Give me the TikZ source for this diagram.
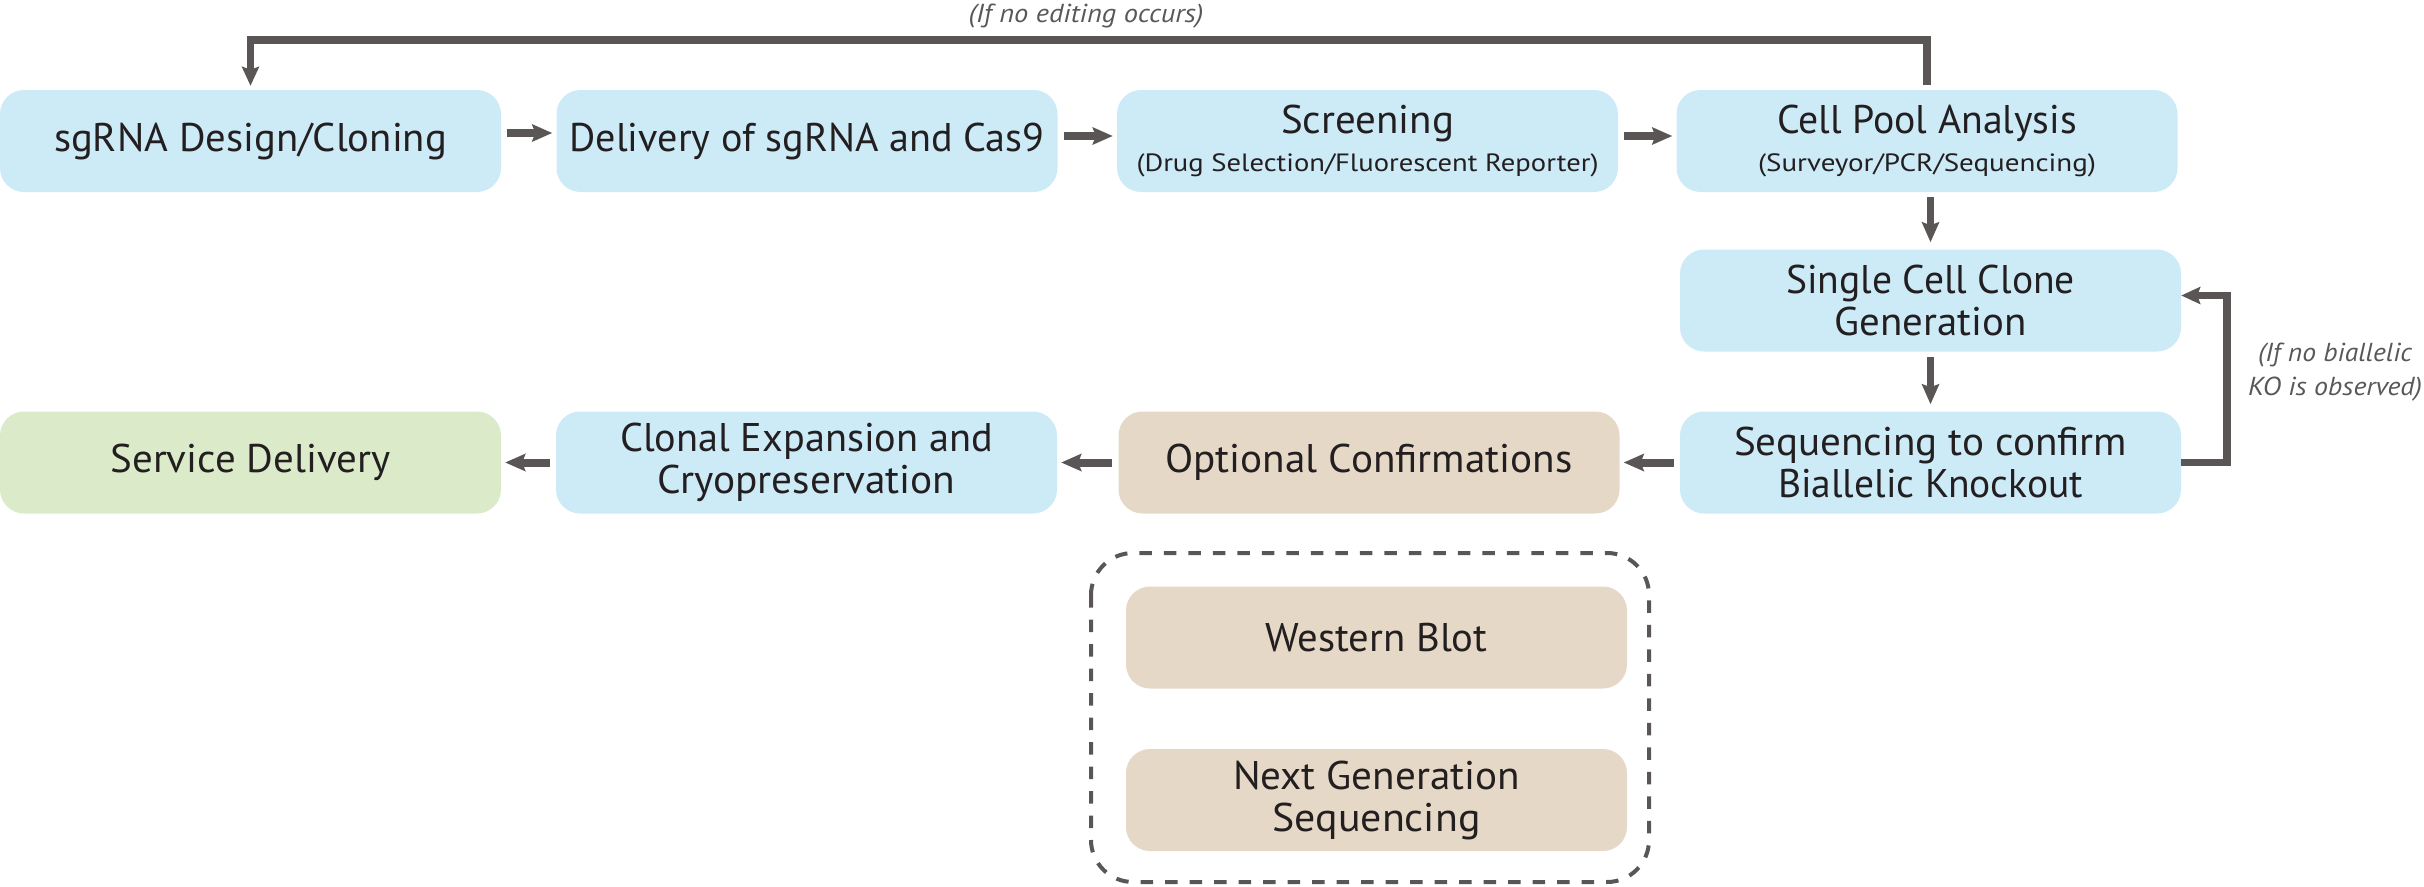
\documentclass[tikz,border=0pt]{standalone}
\usepackage{graphicx}
\usepackage{fontspec}
\setmainfont{PT Sans}
\usetikzlibrary{arrows.meta,calc}
\definecolor{boxblue}{RGB}{205,234,247}
\definecolor{boxgreen}{RGB}{219,235,201}
\definecolor{boxtan}{RGB}{229,216,198}
\definecolor{arrowgray}{RGB}{90,86,86}
\definecolor{txt}{RGB}{35,31,32}
\definecolor{lblgray}{RGB}{88,88,88}
\newsavebox\fitbox
\newcommand\fitw[2]{\sbox\fitbox{#2}\scalebox{\fpeval{#1/(\the\wd\fitbox)}}[1]{\usebox\fitbox}}
\newcommand\subsz{\fontsize{25}{28}\selectfont}
\begin{document}
\begin{tikzpicture}[x=1pt,y=-1pt,
  box/.style={rounded corners=24pt, minimum width=501pt, minimum height=102pt,
    inner sep=0pt, align=center, text=txt, font=\fontsize{40}{42}\selectfont},
  bluebox/.style={box, fill=boxblue},
  greenbox/.style={box, fill=boxgreen},
  tanbox/.style={box, fill=boxtan},
  harrow/.style={draw=arrowgray, line width=8pt, shorten <=6pt, shorten >=4pt,
    -{Stealth[length=20pt,width=17pt,inset=3pt]}},
  varrow/.style={draw=arrowgray, line width=7pt, shorten <=5pt, shorten >=7pt,
    -{Stealth[length=20pt,width=17pt,inset=3pt]}},
  loopline/.style={draw=arrowgray, line width=7.5pt,
    -{Stealth[length=19pt,width=17pt,inset=3pt]}},
  lbl/.style={text=lblgray, font=\fontsize{26}{34}\selectfont\itshape, align=center, inner sep=0pt}
]
\useasboundingbox (0,0) rectangle (2424,886);

% top row
\node[bluebox] (b1) at (250.5,141) {\fitw{393}{sgRNA Design/Cloning}};
\node[bluebox] (b2) at (807,141) {\fitw{475}{Delivery of sgRNA and Cas9}};
\node[bluebox] (b3) at (1367.5,141) {\fitw{173}{Screening}\\[-4pt]{\subsz\fitw{462}{(Drug Selection/Fluorescent Reporter)}}};
\node[bluebox] (b4) at (1927,141) {\fitw{300}{Cell Pool Analysis}\\[-4pt]{\subsz\fitw{338}{(Surveyor/PCR/Sequencing)}}};

% right column
\node[bluebox] (b5) at (1930.5,300.5) {\fitw{289}{Single Cell Clone}\\\fitw{192}{Generation}};
\node[bluebox] (b6) at (1930.5,462.5) {\fitw{393}{Sequencing to confirm}\\\fitw{305}{Biallelic Knockout}};

% bottom row
\node[tanbox] (b7) at (1369,462.5) {\fitw{407}{Optional Confirmations}};
\node[bluebox] (b8) at (806.5,462.5) {\fitw{373}{Clonal Expansion and}\\\fitw{298}{Cryopreservation}};
\node[greenbox] (b9) at (250.5,462.5) {\fitw{280}{Service Delivery}};

% optional group
\draw[draw=arrowgray, line width=4pt, dash pattern=on 12.5pt off 12pt, rounded corners=42pt]
  (1091,553) rectangle (1649,882);
\node[tanbox] (wb) at (1376.5,637.5) {\fitw{222}{Western Blot}};
\node[tanbox] (ngs) at (1376.5,800) {\fitw{287}{Next Generation}\\\fitw{208}{Sequencing}};

% horizontal arrows
\draw[harrow] ([yshift=8pt]b1.east) -- ([yshift=8pt]b2.west);
\draw[harrow] ([yshift=5pt]b2.east) -- ([yshift=5pt]b3.west);
\draw[harrow] ([yshift=5pt]b3.east) -- ([yshift=5pt]b4.west);
\draw[harrow] (b6.west) -- (b7.east);
\draw[harrow] (b7.west) -- (b8.east);
\draw[harrow] (b8.west) -- (b9.east);

% vertical arrows
\draw[varrow] (b4.south -| b5.north) -- (b5.north);
\draw[varrow] (b5.south) -- (b6.north);

% feedback: no editing
\coordinate (topline) at (0,40);
\draw[loopline, shorten <=5pt, shorten >=4pt] (b4.north) -- (b4.north |- topline) -| (b1.north);
\node[lbl] (lt) at (1086,16) {\fitw{235}{(If no editing occurs)}};

% feedback: no biallelic KO
\coordinate (rline) at (2227,0);
\draw[loopline] (b6.east) -- (b6.east -| rline) |- ([yshift=5pt]b5.east);
\node[lbl] (lr) at (2335,372) {\fitw{154}{(If no biallelic}\\\fitw{174}{KO is observed)}};
\end{tikzpicture}
\end{document}
